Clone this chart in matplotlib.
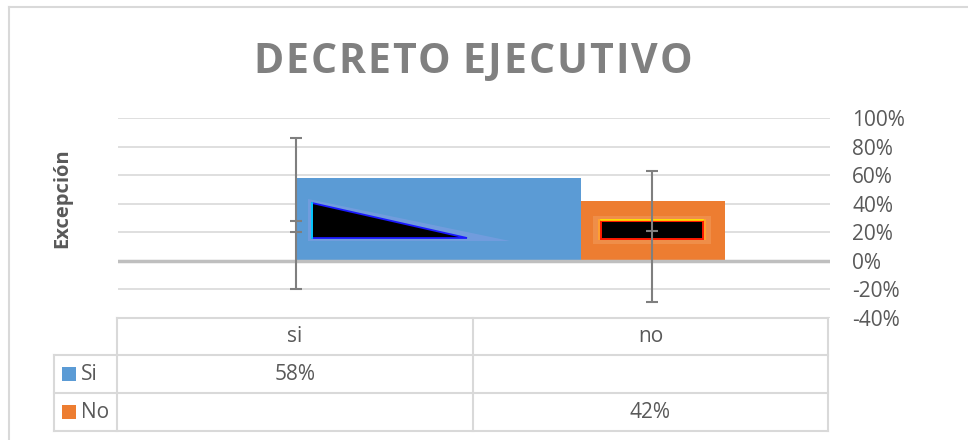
import numpy as np
import matplotlib
matplotlib.use('Agg')
import matplotlib.pyplot as plt
from matplotlib.patches import Polygon, Rectangle
from matplotlib.lines import Line2D

# data
categories = ['si', 'no']
series_names = ['Si', 'No']
series_colors = ['#5B9BD5', '#ED7D31']
si_values = [58, None]
no_values = [None, 42]
table_labels = [['58%', ''], ['', '42%']]
err_top = [86, 63]
err_bottom = [-20, -29]
inner_caps = [[20, 28], [21]]
y_ticks = [-40, -20, 0, 20, 40, 60, 80, 100]

plt.rcParams['font.family'] = ['Open Sans', 'DejaVu Sans']
TXT = '#595959'
GRID = '#D9D9D9'
FS = 15

W, H = 968, 440
fig = plt.figure(figsize=(W / 100, H / 100), dpi=100)


def fx(px):
    return px / W


def fy(py):
    return 1 - py / H


# outer chart border (top and left visible)
fig.add_artist(Line2D([fx(9), 1], [fy(7), fy(7)], color=GRID, lw=1.5))
fig.add_artist(Line2D([fx(9), fx(9)], [fy(7), 0], color=GRID, lw=1.5))

ax = fig.add_axes([fx(118), fy(318), (830 - 118) / W, 200 / H])
x = np.arange(len(categories))

# bars
ax.bar(x[0], si_values[0], width=0.8, align='edge', color=series_colors[0], zorder=2)
ax.bar(x[1] - 0.2, no_values[1], width=0.405, align='edge', color=series_colors[1], zorder=2)

# triangle picture inside blue bar
glow = Polygon([[x[0] + 0.035, 43], [x[0] + 0.035, 14], [x[0] + 0.6, 14]],
               closed=True, facecolor='#8C9FE8', edgecolor='none', alpha=0.45, zorder=3)
ax.add_patch(glow)
tri = Polygon([[x[0] + 0.045, 40.5], [x[0] + 0.045, 16], [x[0] + 0.48, 16]],
              closed=True, facecolor='black', edgecolor='#1A1AFF', lw=1.3, zorder=4)
ax.add_patch(tri)
ax.plot([x[0] + 0.045, x[0] + 0.045], [16, 40.5], color='#00E5FF', lw=1.2, zorder=4)

# framed rectangle picture inside orange bar
ax.add_patch(Rectangle((x[1] - 0.165, 12), 0.33, 19.5, facecolor='#F29B5A',
                       edgecolor='none', alpha=0.6, zorder=3))
ax.add_patch(Rectangle((x[1] - 0.152, 14.5), 0.304, 14.5, facecolor='#FFA030',
                       edgecolor='none', zorder=3))
ax.add_patch(Rectangle((x[1] - 0.143, 15.5), 0.286, 12.5, facecolor='black',
                       edgecolor='#FF1A00', lw=1.4, zorder=4))
ax.plot([x[1] - 0.143, x[1] + 0.143], [28.6, 28.6], color='#FFE600', lw=1.2, zorder=4)

# error bars
cap = 0.016
ax.vlines(x, err_bottom, err_top, color='#7F7F7F', lw=1.5, zorder=6)
ax.hlines(err_top, x - cap, x + cap, color='#7F7F7F', lw=1.5, zorder=6)
ax.hlines(err_bottom, x - cap, x + cap, color='#7F7F7F', lw=1.5, zorder=6)
for xi, caps in zip(x, inner_caps):
    ax.hlines(caps, xi - cap, xi + cap, color='#7F7F7F', lw=1.5, zorder=6)

ax.axhline(0, color='#BFBFBF', lw=2.5, zorder=5)
ax.set_xlim(-0.5, 1.5)
ax.set_ylim(-40, 100)
ax.set_yticks(y_ticks)
ax.set_yticklabels([f'{v}%' for v in y_ticks], color=TXT, fontsize=FS)
ax.yaxis.tick_right()
ax.tick_params(axis='y', length=0, pad=16)
ax.set_xticks([])
ax.yaxis.grid(True, color=GRID, lw=1.2)
ax.set_axisbelow(True)
for s in ax.spines.values():
    s.set_visible(False)

# y label
fig.text(fx(62), fy(198), 'Excepción', rotation=90, ha='center', va='center',
         fontweight='bold', color=TXT, fontsize=14.5)

# title with letter spacing
title = 'DECRETO EJECUTIVO'
r = fig.canvas.get_renderer()
tkw = dict(fontsize=29.5, fontweight='bold', color='#808080', va='baseline', ha='left')
widths = []
for ch in title:
    if ch == ' ':
        widths.append(0)
        continue
    t = fig.text(0, 0, ch, **tkw)
    widths.append(t.get_window_extent(r).width)
    t.remove()
space_extra = 10
gap = (439 - sum(widths) - space_extra) / (len(title) - 2)
cur = 253
for ch, w in zip(title, widths):
    if ch == ' ':
        cur += space_extra
        continue
    fig.text(fx(cur), fy(73), ch, **tkw)
    cur += w + gap

# data table
col_edges = [117, 473, 828]
row_edges = [318, 355, 393, 431]
leg_left = 54


def hline(y, x0, x1):
    fig.add_artist(Line2D([fx(x0), fx(x1)], [fy(y), fy(y)], color=GRID, lw=1.5))


def vline(xp, y0, y1):
    fig.add_artist(Line2D([fx(xp), fx(xp)], [fy(y0), fy(y1)], color=GRID, lw=1.5))


hline(row_edges[0], col_edges[0], col_edges[-1])
for yy in row_edges[1:]:
    hline(yy, leg_left, col_edges[-1])
for xx in col_edges:
    vline(xx, row_edges[0], row_edges[-1])
vline(leg_left, row_edges[1], row_edges[-1])

centers = [(col_edges[i] + col_edges[i + 1]) / 2 for i in range(len(categories))]
for c, cat in zip(centers, categories):
    fig.text(fx(c), fy((row_edges[0] + row_edges[1]) / 2), cat, ha='center', va='center',
             color=TXT, fontsize=FS)

for i, (name, color) in enumerate(zip(series_names, series_colors)):
    ymid = (row_edges[i + 1] + row_edges[i + 2]) / 2
    fig.add_artist(Rectangle((fx(62), fy(ymid + 7)), 14 / W, 14 / H, facecolor=color,
                             edgecolor='none', transform=fig.transFigure))
    fig.text(fx(81), fy(ymid), name, ha='left', va='center', color=TXT, fontsize=FS)
    for c, lab in zip(centers, table_labels[i]):
        if lab:
            fig.text(fx(c), fy(ymid), lab, ha='center', va='center', color=TXT, fontsize=FS)

fig.savefig('out.png', dpi=100)
